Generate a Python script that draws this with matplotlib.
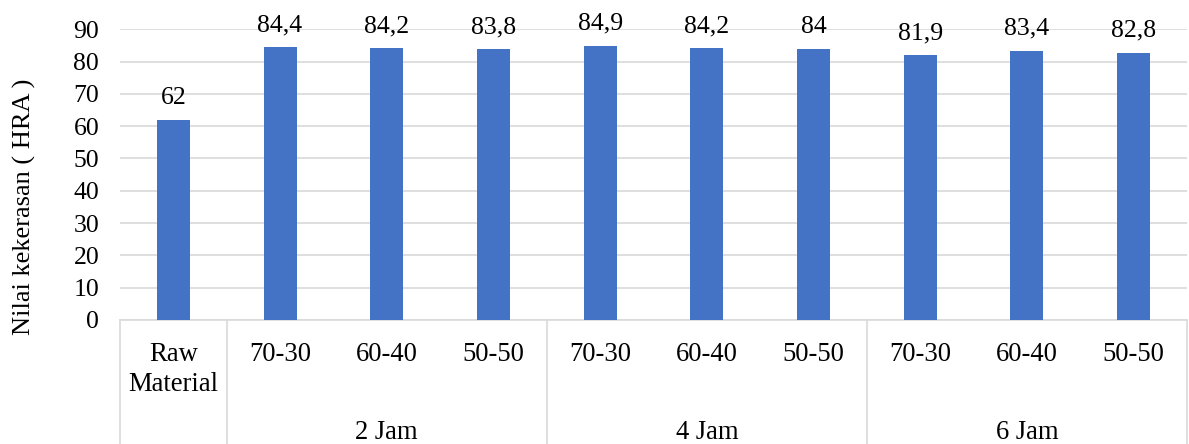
import matplotlib.pyplot as plt

plt.rcParams['font.family'] = ['Liberation Serif', 'DejaVu Serif']

# hardness per sample
komposisi = ['Raw\nMaterial', '70-30', '60-40', '50-50', '70-30', '60-40', '50-50',
             '70-30', '60-40', '50-50']
kekerasan = [62, 84.4, 84.2, 83.8, 84.9, 84.2, 84, 81.9, 83.4, 82.8]
label_nilai = ['62', '84,4', '84,2', '83,8', '84,9', '84,2', '84', '81,9', '83,4', '82,8']
waktu = ['2 Jam', '4 Jam', '6 Jam']
grup_awal = [1, 4, 7]  # first bar index of each time group

fs = 18.5
fs_kat = 19.2
grid_col = '#D9D9D9'

fig = plt.figure(figsize=(11.89, 4.44), dpi=100)
ax = fig.add_axes([120 / 1189, 1 - 320 / 444, 1067 / 1189, 290.7 / 444])

x = list(range(len(kekerasan)))
ax.bar(x, kekerasan, width=0.31, color='#4472C4', zorder=3)

ax.set_xlim(-0.5, len(kekerasan) - 0.5)
ax.set_ylim(0, 90)
ax.set_yticks(range(0, 91, 10))
ax.tick_params(axis='y', length=0, pad=15, labelsize=fs)
ax.set_xticks([])
ax.grid(axis='y', color=grid_col, linewidth=1.2, zorder=0)
for s in ['top', 'right', 'left']:
    ax.spines[s].set_visible(False)
ax.spines['bottom'].set_color(grid_col)
ax.spines['bottom'].set_linewidth(1.2)

# value labels above bars
for xi, v, t in zip(x, kekerasan, label_nilai):
    ax.annotate(t, (xi, v), xytext=(0, 11.5), textcoords='offset points',
                ha='center', va='baseline', fontsize=fs)

# category labels, two levels
trans = ax.get_xaxis_transform()
for xi, k in zip(x, komposisi):
    for j, baris in enumerate(k.split('\n')):
        ax.annotate(baris, (xi, 0), xycoords=trans, xytext=(0, -24.5 - 21.7 * j),
                    textcoords='offset points', ha='center', va='center', fontsize=fs_kat)
for g, start in zip(waktu, grup_awal):
    ax.annotate(g, (start + 1, 0), xycoords=trans, xytext=(0, -81), textcoords='offset points',
                ha='center', va='center', fontsize=fs_kat)

# separators between groups
bawah = -124 / 290.7
for sx in [-0.5, 0.5, 3.5, 6.5, 9.5]:
    ax.plot([sx, sx], [0, bawah], transform=trans, color=grid_col, linewidth=1.2,
            clip_on=False)

fig.text(24 / 1189, 1 - 207 / 444, 'Nilai kekerasan ( HRA )', rotation=90,
         ha='center', va='center', fontsize=19)

fig.savefig('out.png', dpi=100)
